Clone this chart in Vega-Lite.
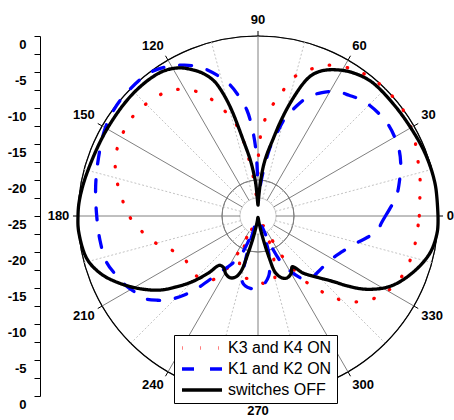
{
  "$schema": "https://vega.github.io/schema/vega-lite/v6.json",
  "width": 360,
  "height": 360,
  "autosize": {"type": "none"},
  "padding": {"left": 78, "top": 36, "right": 16, "bottom": 24},
  "background": "white",
  "config": {
    "view": {"stroke": null},
    "font": "Liberation Sans",
    "legend": {
      "orient": "none",
      "legendX": 96,
      "legendY": 299,
      "title": null,
      "strokeColor": "black",
      "fillColor": "white",
      "padding": 5,
      "labelFont": "Liberation Sans",
      "labelFontSize": 16,
      "labelColor": "black",
      "labelOffset": 33,
      "rowPadding": 5,
      "symbolType": "M-1,0H7",
      "symbolStrokeWidth": 3.3,
      "symbolSize": 100
    }
  },
  "datasets": {
    "circles": [
      {"dB": -22.5, "kind": "minor"}, {"dB": -20, "kind": "major"}, {"dB": -17.5, "kind": "minor"},
      {"dB": -15, "kind": "major"}, {"dB": -12.5, "kind": "minor"}, {"dB": -10, "kind": "major"},
      {"dB": -7.5, "kind": "minor"}, {"dB": -5, "kind": "major"}, {"dB": -2.5, "kind": "minor"},
      {"dB": 0, "kind": "outer"}
    ],
    "spokes": [
      {"angle": 0, "kind": "major"}, {"angle": 15, "kind": "minor"}, {"angle": 30, "kind": "major"},
      {"angle": 45, "kind": "minor"}, {"angle": 60, "kind": "major"}, {"angle": 75, "kind": "minor"},
      {"angle": 90, "kind": "major"}, {"angle": 105, "kind": "minor"}, {"angle": 120, "kind": "major"},
      {"angle": 135, "kind": "minor"}, {"angle": 150, "kind": "major"}, {"angle": 165, "kind": "minor"},
      {"angle": 180, "kind": "major"}, {"angle": 195, "kind": "minor"}, {"angle": 210, "kind": "major"},
      {"angle": 225, "kind": "minor"}, {"angle": 240, "kind": "major"}, {"angle": 255, "kind": "minor"},
      {"angle": 270, "kind": "major"}, {"angle": 285, "kind": "minor"}, {"angle": 300, "kind": "major"},
      {"angle": 315, "kind": "minor"}, {"angle": 330, "kind": "major"}, {"angle": 345, "kind": "minor"}
    ],
    "labels": [
      {"angle": 0, "label": "0"}, {"angle": 30, "label": "30"}, {"angle": 60, "label": "60"},
      {"angle": 90, "label": "90"}, {"angle": 120, "label": "120"}, {"angle": 150, "label": "150"},
      {"angle": 180, "label": "180"}, {"angle": 210, "label": "210"}, {"angle": 240, "label": "240"},
      {"angle": 270, "label": "270"}, {"angle": 300, "label": "300"}, {"angle": 330, "label": "330"}
    ],
    "pattern": [
      {"series": "K3 and K4 ON", "angle": 0, "dB": -2.6},
      {"series": "K3 and K4 ON", "angle": 6, "dB": -2.4},
      {"series": "K3 and K4 ON", "angle": 13, "dB": -1.9},
      {"series": "K3 and K4 ON", "angle": 19, "dB": -1.5},
      {"series": "K3 and K4 ON", "angle": 25, "dB": -0.9},
      {"series": "K3 and K4 ON", "angle": 31, "dB": -0.4},
      {"series": "K3 and K4 ON", "angle": 37, "dB": 0},
      {"series": "K3 and K4 ON", "angle": 42, "dB": 0},
      {"series": "K3 and K4 ON", "angle": 48, "dB": -0.1},
      {"series": "K3 and K4 ON", "angle": 55, "dB": -0.5},
      {"series": "K3 and K4 ON", "angle": 60, "dB": -1.1},
      {"series": "K3 and K4 ON", "angle": 66, "dB": -2.1},
      {"series": "K3 and K4 ON", "angle": 71, "dB": -3.6},
      {"series": "K3 and K4 ON", "angle": 76, "dB": -5.3},
      {"series": "K3 and K4 ON", "angle": 80, "dB": -8.2},
      {"series": "K3 and K4 ON", "angle": 84, "dB": -10.2},
      {"series": "K3 and K4 ON", "angle": 87, "dB": -12.6},
      {"series": "K3 and K4 ON", "angle": 89, "dB": -15.1},
      {"series": "K3 and K4 ON", "angle": 90.5, "dB": -20.5},
      {"series": "K3 and K4 ON", "angle": 92, "dB": -23},
      {"series": "K3 and K4 ON", "angle": 94, "dB": -22.5},
      {"series": "K3 and K4 ON", "angle": 96, "dB": -21},
      {"series": "K3 and K4 ON", "angle": 97.5, "dB": -18.6},
      {"series": "K3 and K4 ON", "angle": 100, "dB": -16},
      {"series": "K3 and K4 ON", "angle": 102, "dB": -13},
      {"series": "K3 and K4 ON", "angle": 105, "dB": -11},
      {"series": "K3 and K4 ON", "angle": 109, "dB": -9},
      {"series": "K3 and K4 ON", "angle": 114, "dB": -6.5},
      {"series": "K3 and K4 ON", "angle": 120, "dB": -4.7},
      {"series": "K3 and K4 ON", "angle": 126, "dB": -3.6},
      {"series": "K3 and K4 ON", "angle": 132, "dB": -3.2},
      {"series": "K3 and K4 ON", "angle": 139, "dB": -2.8},
      {"series": "K3 and K4 ON", "angle": 146, "dB": -2.9},
      {"series": "K3 and K4 ON", "angle": 153, "dB": -3.2},
      {"series": "K3 and K4 ON", "angle": 160, "dB": -3.9},
      {"series": "K3 and K4 ON", "angle": 166, "dB": -4.8},
      {"series": "K3 and K4 ON", "angle": 173, "dB": -6},
      {"series": "K3 and K4 ON", "angle": 180, "dB": -7.1},
      {"series": "K3 and K4 ON", "angle": 186, "dB": -8.4},
      {"series": "K3 and K4 ON", "angle": 194, "dB": -10.1},
      {"series": "K3 and K4 ON", "angle": 202, "dB": -12.2},
      {"series": "K3 and K4 ON", "angle": 211, "dB": -13.2},
      {"series": "K3 and K4 ON", "angle": 221, "dB": -13},
      {"series": "K3 and K4 ON", "angle": 230, "dB": -13.4},
      {"series": "K3 and K4 ON", "angle": 236, "dB": -14.5},
      {"series": "K3 and K4 ON", "angle": 240, "dB": -17},
      {"series": "K3 and K4 ON", "angle": 242, "dB": -20},
      {"series": "K3 and K4 ON", "angle": 243.5, "dB": -23.5},
      {"series": "K3 and K4 ON", "angle": 246, "dB": -20},
      {"series": "K3 and K4 ON", "angle": 250, "dB": -17.5},
      {"series": "K3 and K4 ON", "angle": 258, "dB": -16.2},
      {"series": "K3 and K4 ON", "angle": 265, "dB": -16.4},
      {"series": "K3 and K4 ON", "angle": 272, "dB": -15.8},
      {"series": "K3 and K4 ON", "angle": 282, "dB": -15.2},
      {"series": "K3 and K4 ON", "angle": 288, "dB": -17.5},
      {"series": "K3 and K4 ON", "angle": 293, "dB": -20.5},
      {"series": "K3 and K4 ON", "angle": 298, "dB": -23.5},
      {"series": "K3 and K4 ON", "angle": 301, "dB": -18.5},
      {"series": "K3 and K4 ON", "angle": 304, "dB": -15.9},
      {"series": "K3 and K4 ON", "angle": 307, "dB": -13},
      {"series": "K3 and K4 ON", "angle": 311, "dB": -10.8},
      {"series": "K3 and K4 ON", "angle": 315, "dB": -8.4},
      {"series": "K3 and K4 ON", "angle": 320, "dB": -6.5},
      {"series": "K3 and K4 ON", "angle": 326, "dB": -4.9},
      {"series": "K3 and K4 ON", "angle": 332, "dB": -3.9},
      {"series": "K3 and K4 ON", "angle": 339, "dB": -3.2},
      {"series": "K3 and K4 ON", "angle": 347, "dB": -2.9},
      {"series": "K3 and K4 ON", "angle": 353, "dB": -2.8},
      {"series": "K3 and K4 ON", "angle": 360, "dB": -2.6},

      {"series": "K1 and K2 ON", "angle": 0, "dB": -7.3},
      {"series": "K1 and K2 ON", "angle": 3, "dB": -6.7},
      {"series": "K1 and K2 ON", "angle": 8, "dB": -5.6},
      {"series": "K1 and K2 ON", "angle": 15, "dB": -4.6},
      {"series": "K1 and K2 ON", "angle": 20, "dB": -3.9},
      {"series": "K1 and K2 ON", "angle": 26, "dB": -3.3},
      {"series": "K1 and K2 ON", "angle": 36, "dB": -2.9},
      {"series": "K1 and K2 ON", "angle": 47, "dB": -3.3},
      {"series": "K1 and K2 ON", "angle": 53, "dB": -4},
      {"series": "K1 and K2 ON", "angle": 58, "dB": -4.6},
      {"series": "K1 and K2 ON", "angle": 63, "dB": -5.8},
      {"series": "K1 and K2 ON", "angle": 67.5, "dB": -7.2},
      {"series": "K1 and K2 ON", "angle": 71, "dB": -9},
      {"series": "K1 and K2 ON", "angle": 74.5, "dB": -10.9},
      {"series": "K1 and K2 ON", "angle": 77, "dB": -13},
      {"series": "K1 and K2 ON", "angle": 80, "dB": -15.3},
      {"series": "K1 and K2 ON", "angle": 83, "dB": -18.5},
      {"series": "K1 and K2 ON", "angle": 86, "dB": -21},
      {"series": "K1 and K2 ON", "angle": 89, "dB": -23},
      {"series": "K1 and K2 ON", "angle": 90.5, "dB": -20},
      {"series": "K1 and K2 ON", "angle": 92, "dB": -15.5},
      {"series": "K1 and K2 ON", "angle": 94, "dB": -12.5},
      {"series": "K1 and K2 ON", "angle": 96, "dB": -10.2},
      {"series": "K1 and K2 ON", "angle": 99, "dB": -8.2},
      {"series": "K1 and K2 ON", "angle": 102, "dB": -6.4},
      {"series": "K1 and K2 ON", "angle": 106, "dB": -4.7},
      {"series": "K1 and K2 ON", "angle": 111, "dB": -2.9},
      {"series": "K1 and K2 ON", "angle": 116, "dB": -1.7},
      {"series": "K1 and K2 ON", "angle": 121, "dB": -0.75},
      {"series": "K1 and K2 ON", "angle": 128, "dB": 0},
      {"series": "K1 and K2 ON", "angle": 139, "dB": 0},
      {"series": "K1 and K2 ON", "angle": 145, "dB": -0.2},
      {"series": "K1 and K2 ON", "angle": 151, "dB": -0.6},
      {"series": "K1 and K2 ON", "angle": 161, "dB": -1.5},
      {"series": "K1 and K2 ON", "angle": 170, "dB": -2.1},
      {"series": "K1 and K2 ON", "angle": 180, "dB": -2.6},
      {"series": "K1 and K2 ON", "angle": 189, "dB": -2.8},
      {"series": "K1 and K2 ON", "angle": 197, "dB": -3},
      {"series": "K1 and K2 ON", "angle": 203, "dB": -3.7},
      {"series": "K1 and K2 ON", "angle": 208, "dB": -4.3},
      {"series": "K1 and K2 ON", "angle": 213, "dB": -5.1},
      {"series": "K1 and K2 ON", "angle": 216, "dB": -5.5},
      {"series": "K1 and K2 ON", "angle": 220, "dB": -6.8},
      {"series": "K1 and K2 ON", "angle": 223, "dB": -7.9},
      {"series": "K1 and K2 ON", "angle": 227, "dB": -10},
      {"series": "K1 and K2 ON", "angle": 230, "dB": -11.9},
      {"series": "K1 and K2 ON", "angle": 236, "dB": -15.6},
      {"series": "K1 and K2 ON", "angle": 241, "dB": -17.3},
      {"series": "K1 and K2 ON", "angle": 246, "dB": -19},
      {"series": "K1 and K2 ON", "angle": 249, "dB": -21},
      {"series": "K1 and K2 ON", "angle": 251, "dB": -23.5},
      {"series": "K1 and K2 ON", "angle": 254, "dB": -19},
      {"series": "K1 and K2 ON", "angle": 257, "dB": -15.5},
      {"series": "K1 and K2 ON", "angle": 264, "dB": -14.9},
      {"series": "K1 and K2 ON", "angle": 272, "dB": -15.1},
      {"series": "K1 and K2 ON", "angle": 280, "dB": -16.5},
      {"series": "K1 and K2 ON", "angle": 286, "dB": -19.5},
      {"series": "K1 and K2 ON", "angle": 290, "dB": -23.5},
      {"series": "K1 and K2 ON", "angle": 293, "dB": -21},
      {"series": "K1 and K2 ON", "angle": 297, "dB": -17.6},
      {"series": "K1 and K2 ON", "angle": 302, "dB": -15.5},
      {"series": "K1 and K2 ON", "angle": 308, "dB": -13.7},
      {"series": "K1 and K2 ON", "angle": 318, "dB": -13.6},
      {"series": "K1 and K2 ON", "angle": 328, "dB": -13.3},
      {"series": "K1 and K2 ON", "angle": 337, "dB": -12.3},
      {"series": "K1 and K2 ON", "angle": 344, "dB": -11},
      {"series": "K1 and K2 ON", "angle": 349, "dB": -9.5},
      {"series": "K1 and K2 ON", "angle": 353, "dB": -8.3},
      {"series": "K1 and K2 ON", "angle": 357, "dB": -7.8},
      {"series": "K1 and K2 ON", "angle": 360, "dB": -7.3},

      {"series": "switches OFF", "angle": 0, "dB": 0},
      {"series": "switches OFF", "angle": 10, "dB": 0},
      {"series": "switches OFF", "angle": 20, "dB": -0.2},
      {"series": "switches OFF", "angle": 30, "dB": -0.5},
      {"series": "switches OFF", "angle": 40, "dB": -0.6},
      {"series": "switches OFF", "angle": 50, "dB": -0.6},
      {"series": "switches OFF", "angle": 57, "dB": -1.2},
      {"series": "switches OFF", "angle": 62, "dB": -2},
      {"series": "switches OFF", "angle": 66, "dB": -2.9},
      {"series": "switches OFF", "angle": 69, "dB": -4},
      {"series": "switches OFF", "angle": 71, "dB": -5.4},
      {"series": "switches OFF", "angle": 73, "dB": -7.5},
      {"series": "switches OFF", "angle": 75, "dB": -9.7},
      {"series": "switches OFF", "angle": 77, "dB": -12},
      {"series": "switches OFF", "angle": 79, "dB": -14.2},
      {"series": "switches OFF", "angle": 82, "dB": -16.5},
      {"series": "switches OFF", "angle": 84, "dB": -18.2},
      {"series": "switches OFF", "angle": 86, "dB": -20.5},
      {"series": "switches OFF", "angle": 88, "dB": -22.5},
      {"series": "switches OFF", "angle": 90, "dB": -23.5},
      {"series": "switches OFF", "angle": 92, "dB": -22.8},
      {"series": "switches OFF", "angle": 94, "dB": -20.5},
      {"series": "switches OFF", "angle": 96, "dB": -18.8},
      {"series": "switches OFF", "angle": 98, "dB": -17},
      {"series": "switches OFF", "angle": 101, "dB": -14.3},
      {"series": "switches OFF", "angle": 104, "dB": -9.8},
      {"series": "switches OFF", "angle": 106, "dB": -7.2},
      {"series": "switches OFF", "angle": 108, "dB": -5.3},
      {"series": "switches OFF", "angle": 111, "dB": -3.8},
      {"series": "switches OFF", "angle": 114, "dB": -2.8},
      {"series": "switches OFF", "angle": 118, "dB": -1.7},
      {"series": "switches OFF", "angle": 124, "dB": -0.9},
      {"series": "switches OFF", "angle": 135, "dB": -0.7},
      {"series": "switches OFF", "angle": 150, "dB": -0.8},
      {"series": "switches OFF", "angle": 166, "dB": -0.5},
      {"series": "switches OFF", "angle": 175, "dB": -0.1},
      {"series": "switches OFF", "angle": 180, "dB": 0},
      {"series": "switches OFF", "angle": 185, "dB": 0},
      {"series": "switches OFF", "angle": 194, "dB": -0.5},
      {"series": "switches OFF", "angle": 200, "dB": -1.7},
      {"series": "switches OFF", "angle": 205, "dB": -3.3},
      {"series": "switches OFF", "angle": 211, "dB": -5.5},
      {"series": "switches OFF", "angle": 217, "dB": -7.9},
      {"series": "switches OFF", "angle": 221, "dB": -10},
      {"series": "switches OFF", "angle": 225, "dB": -12.1},
      {"series": "switches OFF", "angle": 229, "dB": -14.5},
      {"series": "switches OFF", "angle": 232, "dB": -16.3},
      {"series": "switches OFF", "angle": 236, "dB": -16.4},
      {"series": "switches OFF", "angle": 241, "dB": -15.8},
      {"series": "switches OFF", "angle": 246, "dB": -15.6},
      {"series": "switches OFF", "angle": 250, "dB": -16},
      {"series": "switches OFF", "angle": 253, "dB": -17},
      {"series": "switches OFF", "angle": 255, "dB": -19.5},
      {"series": "switches OFF", "angle": 257, "dB": -21.5},
      {"series": "switches OFF", "angle": 259, "dB": -23},
      {"series": "switches OFF", "angle": 262, "dB": -24.2},
      {"series": "switches OFF", "angle": 270, "dB": -24.8},
      {"series": "switches OFF", "angle": 278, "dB": -24.2},
      {"series": "switches OFF", "angle": 281, "dB": -23},
      {"series": "switches OFF", "angle": 283, "dB": -21.3},
      {"series": "switches OFF", "angle": 285, "dB": -19},
      {"series": "switches OFF", "angle": 287, "dB": -16.8},
      {"series": "switches OFF", "angle": 291, "dB": -15.8},
      {"series": "switches OFF", "angle": 295, "dB": -15.5},
      {"series": "switches OFF", "angle": 300, "dB": -15.8},
      {"series": "switches OFF", "angle": 304, "dB": -16.5},
      {"series": "switches OFF", "angle": 306, "dB": -16},
      {"series": "switches OFF", "angle": 308, "dB": -15},
      {"series": "switches OFF", "angle": 312, "dB": -13.8},
      {"series": "switches OFF", "angle": 315, "dB": -12.8},
      {"series": "switches OFF", "angle": 319, "dB": -11.1},
      {"series": "switches OFF", "angle": 322, "dB": -9.2},
      {"series": "switches OFF", "angle": 326, "dB": -6.8},
      {"series": "switches OFF", "angle": 332, "dB": -4.2},
      {"series": "switches OFF", "angle": 340, "dB": -2.1},
      {"series": "switches OFF", "angle": 348, "dB": -0.55},
      {"series": "switches OFF", "angle": 355, "dB": 0},
      {"series": "switches OFF", "angle": 360, "dB": 0}
    ]
  },
  "layer": [
    {
      "data": {"name": "circles"},
      "transform": [{"filter": "datum.kind == 'minor'"}],
      "mark": {"type": "arc", "theta": 0, "theta2": 6.2832, "filled": false, "stroke": "#b4b4b4", "strokeWidth": 0.8, "strokeDash": [2, 2]},
      "encoding": {"radius": {"field": "dB", "type": "quantitative", "scale": {"type": "linear", "domain": [-25, 0], "range": [0, 180], "zero": false}}}
    },
    {
      "data": {"name": "circles"},
      "transform": [{"filter": "datum.kind == 'major'"}],
      "mark": {"type": "arc", "theta": 0, "theta2": 6.2832, "filled": false, "stroke": "#808080", "strokeWidth": 1},
      "encoding": {"radius": {"field": "dB", "type": "quantitative", "scale": {"type": "linear", "domain": [-25, 0], "range": [0, 180], "zero": false}}}
    },
    {
      "data": {"name": "circles"},
      "transform": [{"filter": "datum.kind == 'outer'"}],
      "mark": {"type": "arc", "theta": 0, "theta2": 6.2832, "filled": false, "stroke": "black", "strokeWidth": 1.2},
      "encoding": {"radius": {"field": "dB", "type": "quantitative", "scale": {"type": "linear", "domain": [-25, 0], "range": [0, 180], "zero": false}}}
    },
    {
      "encoding": {
        "x": {"field": "x", "type": "quantitative", "scale": {"domain": [-25, 25], "nice": false, "zero": false}, "axis": null},
        "y": {
          "field": "y", "type": "quantitative",
          "scale": {"domain": [-25, 25], "nice": false, "zero": false},
          "axis": {
            "title": null,
            "offset": 38,
            "values": [-25, -22.5, -20, -17.5, -15, -12.5, -10, -7.5, -5, -2.5, 0, 2.5, 5, 7.5, 10, 12.5, 15, 17.5, 20, 22.5, 25],
            "labelExpr": "datum.value % 5 == 0 ? (abs(datum.value) == 25 ? '0' : '-' + (25 - abs(datum.value))) : ''",
            "grid": false,
            "domainColor": "black",
            "domainWidth": 1,
            "tickColor": "black",
            "tickWidth": 1,
            "tickSize": 6,
            "labelPadding": 8,
            "labelOffset": 8,
            "labelFont": "Liberation Sans",
            "labelFontSize": 13,
            "labelFontWeight": "bold",
            "labelColor": "black",
            "labelOverlap": false,
            "labelFlush": false,
            "labelBound": false
          }
        }
      },
      "layer": [
        {
          "data": {"name": "spokes"},
          "transform": [
            {"filter": "datum.kind == 'minor'"},
            {"calculate": "2.5 * cos(datum.angle * PI / 180)", "as": "x"},
            {"calculate": "2.5 * sin(datum.angle * PI / 180)", "as": "y"},
            {"calculate": "25 * cos(datum.angle * PI / 180)", "as": "x2"},
            {"calculate": "25 * sin(datum.angle * PI / 180)", "as": "y2"}
          ],
          "mark": {"type": "rule", "stroke": "#b4b4b4", "strokeWidth": 0.8, "strokeDash": [2, 2]},
          "encoding": {"x2": {"field": "x2"}, "y2": {"field": "y2"}}
        },
        {
          "data": {"name": "spokes"},
          "transform": [
            {"filter": "datum.kind == 'major'"},
            {"calculate": "2.5 * cos(datum.angle * PI / 180)", "as": "x"},
            {"calculate": "2.5 * sin(datum.angle * PI / 180)", "as": "y"},
            {"calculate": "25 * cos(datum.angle * PI / 180)", "as": "x2"},
            {"calculate": "25 * sin(datum.angle * PI / 180)", "as": "y2"}
          ],
          "mark": {"type": "rule", "stroke": "#808080", "strokeWidth": 1},
          "encoding": {"x2": {"field": "x2"}, "y2": {"field": "y2"}}
        },
        {
          "data": {"name": "spokes"},
          "transform": [
            {"filter": "datum.kind == 'major'"},
            {"calculate": "25 * cos(datum.angle * PI / 180)", "as": "x"},
            {"calculate": "25 * sin(datum.angle * PI / 180)", "as": "y"},
            {"calculate": "25.7 * cos(datum.angle * PI / 180)", "as": "x2"},
            {"calculate": "25.7 * sin(datum.angle * PI / 180)", "as": "y2"}
          ],
          "mark": {"type": "rule", "stroke": "black", "strokeWidth": 1},
          "encoding": {"x2": {"field": "x2"}, "y2": {"field": "y2"}}
        },
        {
          "data": {"name": "labels"},
          "transform": [
            {"calculate": "26.2 * cos(datum.angle * PI / 180)", "as": "x"},
            {"calculate": "26.2 * sin(datum.angle * PI / 180)", "as": "y"}
          ],
          "mark": {
            "type": "text",
            "font": "Liberation Sans",
            "fontSize": 13,
            "fontWeight": "bold",
            "color": "black",
            "align": {"expr": "datum.angle == 90 || datum.angle == 270 ? 'center' : (datum.angle > 90 && datum.angle < 270 ? 'right' : 'left')"},
            "baseline": {"expr": "datum.angle == 0 || datum.angle == 180 ? 'middle' : (datum.angle < 180 ? 'bottom' : 'top')"}
          },
          "encoding": {"text": {"field": "label"}}
        },
        {
          "data": {"name": "pattern"},
          "transform": [
            {"filter": "datum.series == 'K3 and K4 ON'"},
            {"calculate": "max(0, datum.dB + 25) * cos(datum.angle * PI / 180)", "as": "x"},
            {"calculate": "max(0, datum.dB + 25) * sin(datum.angle * PI / 180)", "as": "y"}
          ],
          "mark": {"type": "line", "strokeWidth": 3.3, "strokeCap": "round", "interpolate": "catmull-rom"},
          "encoding": {
            "order": {"field": "angle", "type": "quantitative"},
            "color": {"field": "series", "type": "nominal", "scale": {"domain": ["K3 and K4 ON", "K1 and K2 ON", "switches OFF"], "range": ["#ff0000", "#0000ff", "#000000"]}},
            "strokeDash": {"field": "series", "type": "nominal", "scale": {"domain": ["K3 and K4 ON", "K1 and K2 ON", "switches OFF"], "range": [[0.5, 17.5], [12, 16], [1, 0]]}}
          }
        },
        {
          "data": {"name": "pattern"},
          "transform": [
            {"filter": "datum.series == 'K1 and K2 ON'"},
            {"calculate": "max(0, datum.dB + 25) * cos(datum.angle * PI / 180)", "as": "x"},
            {"calculate": "max(0, datum.dB + 25) * sin(datum.angle * PI / 180)", "as": "y"}
          ],
          "mark": {"type": "line", "strokeWidth": 3.3, "strokeCap": "round", "interpolate": "catmull-rom"},
          "encoding": {
            "order": {"field": "angle", "type": "quantitative"},
            "color": {"field": "series", "type": "nominal", "scale": {"domain": ["K3 and K4 ON", "K1 and K2 ON", "switches OFF"], "range": ["#ff0000", "#0000ff", "#000000"]}},
            "strokeDash": {"field": "series", "type": "nominal", "scale": {"domain": ["K3 and K4 ON", "K1 and K2 ON", "switches OFF"], "range": [[0.5, 17.5], [12, 16], [1, 0]]}}
          }
        },
        {
          "data": {"name": "pattern"},
          "transform": [
            {"filter": "datum.series == 'switches OFF'"},
            {"calculate": "max(0, datum.dB + 25) * cos(datum.angle * PI / 180)", "as": "x"},
            {"calculate": "max(0, datum.dB + 25) * sin(datum.angle * PI / 180)", "as": "y"}
          ],
          "mark": {"type": "line", "strokeWidth": 3.3, "strokeCap": "round", "interpolate": "catmull-rom"},
          "encoding": {
            "order": {"field": "angle", "type": "quantitative"},
            "color": {"field": "series", "type": "nominal", "scale": {"domain": ["K3 and K4 ON", "K1 and K2 ON", "switches OFF"], "range": ["#ff0000", "#0000ff", "#000000"]}},
            "strokeDash": {"field": "series", "type": "nominal", "scale": {"domain": ["K3 and K4 ON", "K1 and K2 ON", "switches OFF"], "range": [[0.5, 17.5], [12, 16], [1, 0]]}}
          }
        }
      ]
    }
  ]
}
